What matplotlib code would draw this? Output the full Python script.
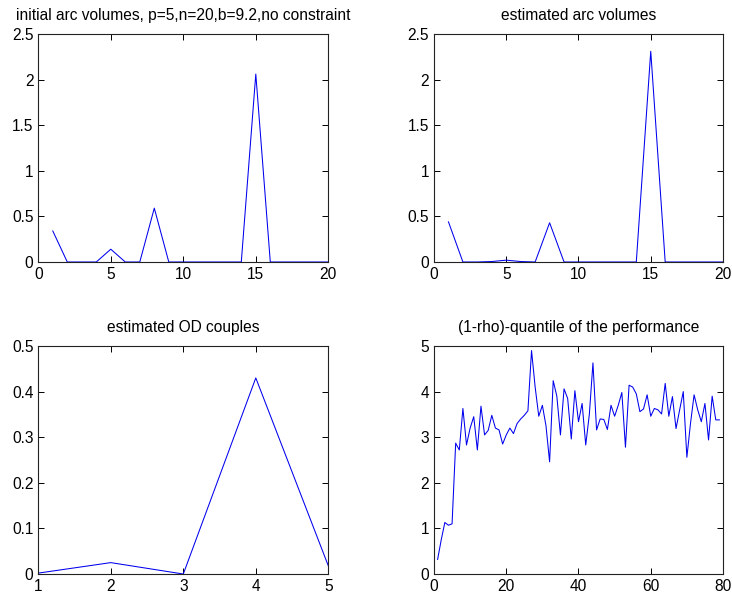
import matplotlib
matplotlib.use('Agg')
import matplotlib.pyplot as plt
from matplotlib.ticker import FormatStrFormatter, MultipleLocator
import numpy as np

plt.rcParams['font.family'] = ['Liberation Sans', 'DejaVu Sans']
plt.rcParams['font.size'] = 11

# initial arc volumes (arcs 1..20)
initial_arc_volumes = [0.34, 0, 0, 0, 0.14, 0, 0, 0.59, 0, 0,
                       0, 0, 0, 0, 2.06, 0, 0, 0, 0, 0]

# estimated arc volumes (arcs 1..20)
estimated_arc_volumes = [0.44, 0, 0, 0.005, 0.02, 0.005, 0, 0.43, 0, 0,
                         0, 0, 0, 0, 2.31, 0, 0, 0, 0, 0]

# estimated OD couples (1..5)
estimated_od_couples = [0.002, 0.025, 0.0, 0.43, 0.018]

# (1-rho)-quantile of the performance, iterations 1..79
quantile_performance = [
    0.32, 0.75, 1.13, 1.07, 1.10, 2.87, 2.72, 3.63, 2.83, 3.20,
    3.45, 2.72, 3.68, 3.05, 3.15, 3.48, 3.20, 3.16, 2.85, 3.05,
    3.20, 3.08, 3.30, 3.40, 3.48, 3.58, 4.90, 4.10, 3.46, 3.70,
    3.25, 2.46, 4.24, 3.90, 3.05, 4.06, 3.85, 2.96, 4.02, 3.34,
    3.74, 2.83, 3.50, 4.63, 3.16, 3.40, 3.39, 3.17, 3.70, 3.46,
    3.70, 3.98, 2.78, 4.14, 4.10, 3.95, 3.56, 3.62, 3.93, 3.46,
    3.63, 3.60, 3.51, 4.18, 3.46, 3.89, 3.19, 3.60, 4.00, 2.56,
    3.30, 3.93, 3.60, 3.34, 3.74, 2.94, 3.90, 3.38, 3.38,
]

titles = ['initial arc volumes, p=5,n=20,b=9.2,no constraint',
          'estimated arc volumes',
          'estimated OD couples',
          '(1-rho)-quantile of the performance']


def style_axes(ax, xlim, ylim, xstep, ystep):
    ax.set_xlim(*xlim)
    ax.set_ylim(*ylim)
    ax.xaxis.set_major_locator(MultipleLocator(xstep))
    ax.yaxis.set_major_locator(MultipleLocator(ystep))
    # matlab style labels: 0, 0.5, 1 ...
    ax.xaxis.set_major_formatter(FormatStrFormatter('%g'))
    ax.yaxis.set_major_formatter(FormatStrFormatter('%g'))
    ax.tick_params(direction='in', length=4, width=0.7, top=True, right=True,
                   labelsize=11.2, pad=3.5, colors='black')
    for s in ax.spines.values():
        s.set_linewidth(0.8)
        s.set_color('#222222')


fig = plt.figure(figsize=(7.32, 5.98), dpi=100)

ax1 = fig.add_axes([0.0523, 0.5619, 0.3962, 0.3813])
ax2 = fig.add_axes([0.5929, 0.5619, 0.3948, 0.3813])
ax3 = fig.add_axes([0.0523, 0.0401, 0.3962, 0.3813])
ax4 = fig.add_axes([0.5929, 0.0401, 0.3948, 0.3813])

line_kw = dict(color='#0000ee', linewidth=0.75)

x_arcs = np.arange(1, len(initial_arc_volumes) + 1)
ax1.plot(x_arcs, initial_arc_volumes, **line_kw)
style_axes(ax1, (0, 20), (0, 2.5), 5, 0.5)

ax2.plot(x_arcs, estimated_arc_volumes, **line_kw)
style_axes(ax2, (0, 20), (0, 2.5), 5, 0.5)

x_od = np.arange(1, len(estimated_od_couples) + 1)
ax3.plot(x_od, estimated_od_couples, **line_kw)
style_axes(ax3, (1, 5), (0, 0.5), 1, 0.1)

x_it = np.arange(1, len(quantile_performance) + 1)
ax4.plot(x_it, quantile_performance, **line_kw)
style_axes(ax4, (0, 80), (0, 5), 20, 1)

for ax, t in zip([ax1, ax2, ax3, ax4], titles):
    ax.set_title(t, fontsize=11.2, pad=10)

fig.savefig('out.png', dpi=100)
